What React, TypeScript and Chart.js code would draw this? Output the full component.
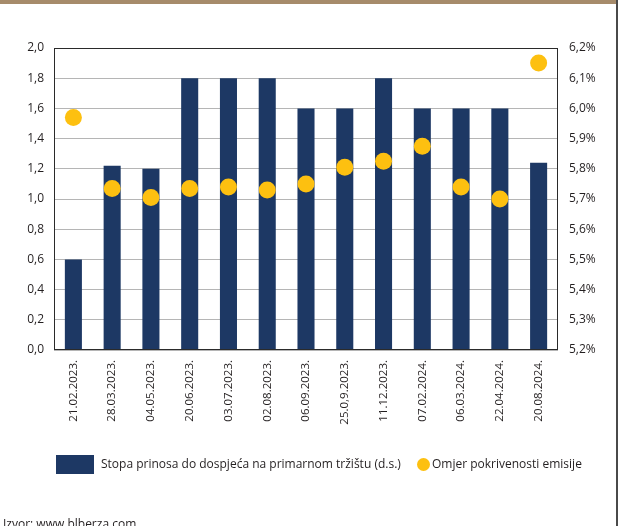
import React, { useEffect, useRef } from "react";
import { Chart, registerables } from "chart.js";

Chart.register(...registerables);

const categories: string[] = [
  "21.02.2023.", "28.03.2023.", "04.05.2023.", "20.06.2023.", "03.07.2023.",
  "02.08.2023.", "06.09.2023.", "25.0,9.2023.", "11.12.2023.", "07.02.2024.",
  "06.03.2024.", "22.04.2024.", "20.08.2024.",
];
// Stopa prinosa (%), right scale
const yieldValues: number[] = [5.5, 5.81, 5.8, 6.1, 6.1, 6.1, 6.0, 6.0, 6.1, 6.0, 6.0, 6.0, 5.82];
// Omjer pokrivenosti emisije, left scale
const coverageValues: number[] = [1.54, 1.07, 1.01, 1.07, 1.08, 1.06, 1.1, 1.21, 1.25, 1.35, 1.08, 1.0, 1.9];

const barLabel = "Stopa prinosa do dospjeća na primarnom tržištu (d.s.)";
const dotLabel = "Omjer pokrivenosti emisije";
const sourceText = "Izvor:  www.blberza.com";

const BAR_COLOR = "#1d3864";
const DOT_COLOR = "#fdc010";
const TEXT_COLOR = "#231f20";
const FONT = "'Open Sans', sans-serif";

const framePlugin = {
  id: "frame",
  afterDatasetsDraw(chart: any) {
    const { ctx, chartArea } = chart;
    ctx.save();
    ctx.strokeStyle = "#2a2a2a";
    ctx.lineWidth = 1;
    ctx.strokeRect(
      Math.round(chartArea.left) + 0.5,
      Math.round(chartArea.top) + 0.5,
      Math.round(chartArea.right - chartArea.left) - 1,
      Math.round(chartArea.bottom - chartArea.top) - 1
    );
    ctx.restore();
  },
};

export default function App() {
  const ref = useRef<HTMLCanvasElement | null>(null);

  useEffect(() => {
    if (!ref.current) return;
    const chart = new Chart(ref.current, {
      type: "bar",
      data: {
        labels: categories,
        datasets: [
          {
            type: "line",
            label: dotLabel,
            data: coverageValues,
            yAxisID: "y",
            showLine: false,
            pointRadius: 8.5,
            pointHoverRadius: 8.5,
            pointBackgroundColor: DOT_COLOR,
            pointBorderWidth: 0,
            borderColor: DOT_COLOR,
            order: 1,
          } as any,
          {
            type: "bar",
            label: barLabel,
            data: yieldValues,
            yAxisID: "y1",
            backgroundColor: BAR_COLOR,
            borderWidth: 0,
            barPercentage: 0.44,
            categoryPercentage: 1,
            order: 2,
          } as any,
        ],
      },
      options: {
        animation: false,
        responsive: false,
        maintainAspectRatio: false,
        layout: { padding: { top: 48, left: 0, right: 0, bottom: 86 } },
        plugins: {
          legend: { display: false },
          tooltip: { enabled: false },
        },
        scales: {
          x: {
            grid: { display: false, drawTicks: false },
            border: { display: false },
            ticks: {
              color: TEXT_COLOR,
              font: { family: FONT, size: 11.5 },
              minRotation: 90,
              maxRotation: 90,
              padding: 10,
              autoSkip: false,
            },
            afterFit(scale: any) {
              scale.height = 90;
            },
          },
          y: {
            position: "left",
            min: 0,
            max: 2,
            grid: { color: "#b5b5b5", drawTicks: false, lineWidth: 1 },
            border: { display: false },
            ticks: {
              stepSize: 0.2,
              color: TEXT_COLOR,
              font: { family: FONT, size: 12 },
              padding: 10,
              callback: (v: any) => Number(v).toFixed(1).replace(".", ","),
            },
            afterFit(scale: any) {
              scale.width = 54;
            },
          },
          y1: {
            position: "right",
            min: 5.2,
            max: 6.2,
            grid: { display: false, drawTicks: false },
            border: { display: false },
            ticks: {
              stepSize: 0.1,
              color: TEXT_COLOR,
              font: { family: FONT, size: 12 },
              padding: 11,
              callback: (v: any) => Number(v).toFixed(1).replace(".", ",") + "%",
            },
            afterFit(scale: any) {
              scale.width = 61;
            },
          },
        },
      },
      plugins: [framePlugin],
    });
    return () => chart.destroy();
  }, []);

  const textStyle: React.CSSProperties = {
    position: "absolute",
    fontFamily: FONT,
    fontSize: 12,
    color: TEXT_COLOR,
    whiteSpace: "nowrap",
    lineHeight: "16px",
  };

  return (
    <div
      style={{
        position: "fixed",
        left: 0,
        top: 0,
        width: 619,
        height: 526,
        overflow: "hidden",
        background: "#ffffff",
      }}
    >
      <canvas ref={ref} width={619} height={526} style={{ position: "absolute", left: 0, top: 0, width: 619, height: 526 }} />
      <div style={{ position: "absolute", left: 0, top: 0, width: 617, height: 4, background: "#a68b6b" }} />
      <div style={{ position: "absolute", left: 616, top: 0, width: 1.5, height: 526, background: "#4a4a4a" }} />
      <div style={{ position: "absolute", left: 56, top: 455, width: 38, height: 19, background: BAR_COLOR }} />
      <div style={{ ...textStyle, left: 101, top: 456 }}>{barLabel}</div>
      <div
        style={{
          position: "absolute",
          left: 417,
          top: 458,
          width: 13,
          height: 13,
          borderRadius: "50%",
          background: DOT_COLOR,
        }}
      />
      <div style={{ ...textStyle, left: 432, top: 456 }}>{dotLabel}</div>
      <div style={{ ...textStyle, left: 3, top: 516 }}>{sourceText}</div>
    </div>
  );
}
